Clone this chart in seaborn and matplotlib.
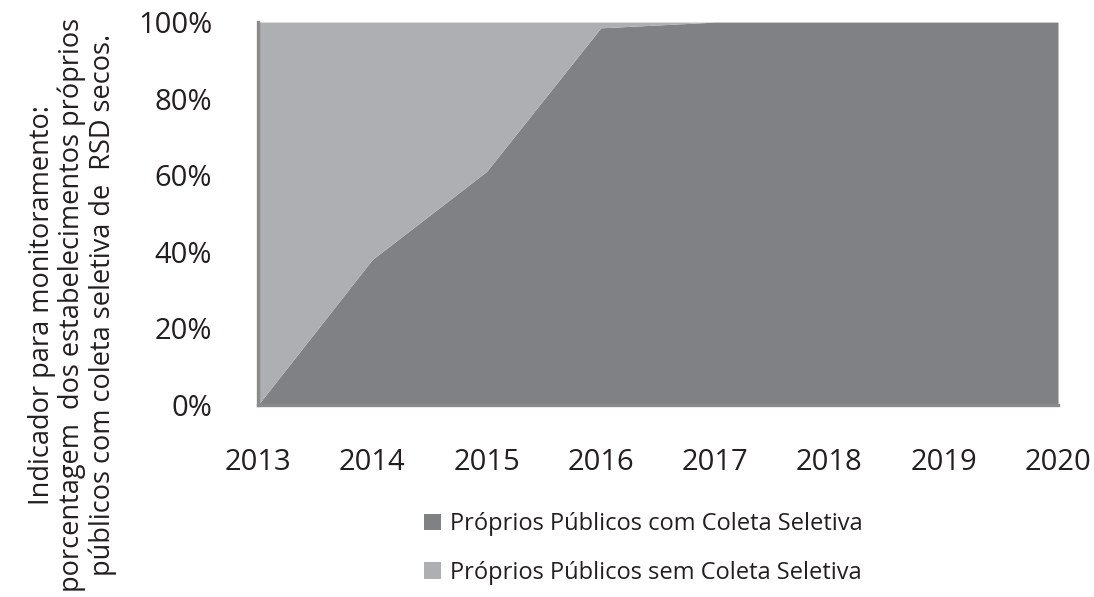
import numpy as np
import pandas as pd
import seaborn as sns
import matplotlib.pyplot as plt
from matplotlib.patches import Patch

years = [2013, 2014, 2015, 2016, 2017, 2018, 2019, 2020]
com_coleta = [0, 38, 61, 98.5, 100, 100, 100, 100]
sem_coleta = [100 - v for v in com_coleta]
y_ticks = [0, 20, 40, 60, 80, 100]
series_names = ['Próprios Públicos com Coleta Seletiva',
                'Próprios Públicos sem Coleta Seletiva']
colors = ['#808184', '#aeafb2']

sns.set_style('white')
plt.rcParams['font.family'] = ['Open Sans', 'DejaVu Sans']
text_color = '#231f20'
axis_color = '#8a8a8c'

df = pd.DataFrame({'Ano': years, series_names[0]: com_coleta, series_names[1]: sem_coleta})

fig = plt.figure(figsize=(10.94, 5.97), dpi=100)
ax = fig.add_axes([0.2358, 0.3216, 0.7313, 0.6414])

ax.stackplot(df['Ano'], df[series_names[0]], df[series_names[1]],
             colors=colors, linewidth=0)

ax.set_xlim(years[0], years[-1])
ax.set_ylim(0, 100)
ax.set_xticks(years)
ax.set_yticks(y_ticks)
ax.set_yticklabels([f'{t}%' for t in y_ticks])

for side in ['top', 'right']:
    ax.spines[side].set_visible(False)
for side in ['left', 'bottom']:
    ax.spines[side].set_color(axis_color)
    ax.spines[side].set_linewidth(2.4)

ax.tick_params(axis='both', colors=axis_color, width=2.4, length=7,
               labelcolor=text_color)
ax.tick_params(axis='y', pad=26, labelsize=21)
ax.tick_params(axis='x', pad=24, labelsize=21)
ax.set_xlabel('')

fig.text(0.066, 0.489,
         'Indicador para monitoramento:\nporcentagem  dos estabelecimentos próprios\npúblicos com coleta seletiva de  RSD secos.',
         rotation=90, ha='center', va='center', multialignment='center',
         fontsize=19.5, color=text_color, linespacing=1.1)

handles = [Patch(facecolor=c, edgecolor='none') for c in colors]
fig.legend(handles, series_names, loc='upper left', bbox_to_anchor=(0.388, 0.142),
           frameon=False, fontsize=17, handlelength=0.7, handleheight=0.7,
           handletextpad=0.4, labelspacing=1.03, labelcolor=text_color,
           borderaxespad=0, borderpad=0)

fig.savefig('out.png', dpi=100)
